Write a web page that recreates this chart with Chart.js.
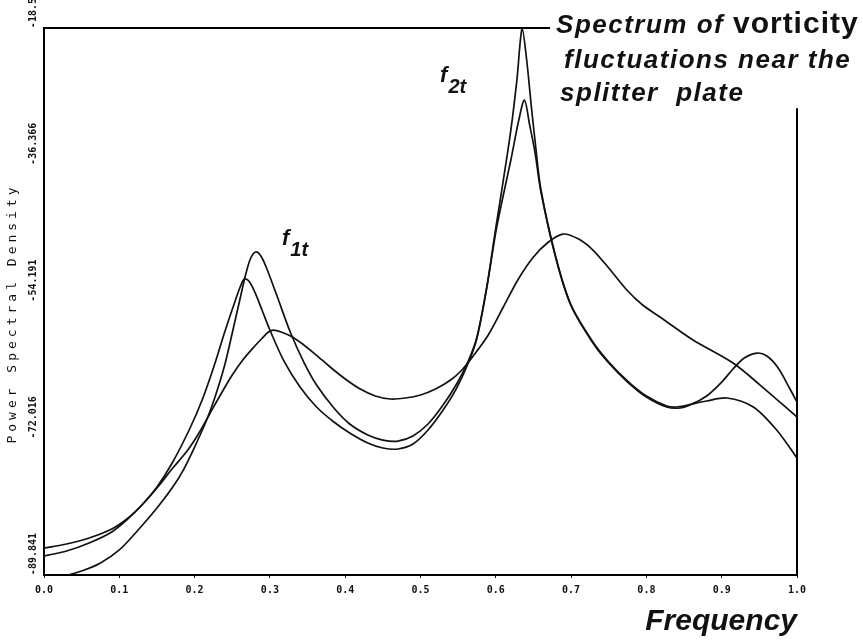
<!DOCTYPE html>
<html>
<head>
<meta charset="utf-8">
<script src="https://cdn.jsdelivr.net/npm/chart.js@4.4.1/dist/chart.umd.min.js"></script>
<style>
html,body{margin:0;padding:0;background:#fff;}
#wrap{width:863px;height:644px;position:relative;}
</style>
</head>
<body>
<div id="wrap"><canvas id="c"></canvas></div>
<script>
// ---- tick values / labels ----
const yTickValues = [-89.841, -72.016, -54.191, -36.366, -18.541];
const yTickLabels = ['-89.841', '-72.016', '-54.191', '-36.366', '-18.541'];
const xTickValues = [0, 0.1, 0.2, 0.3, 0.4, 0.5, 0.6, 0.7, 0.8, 0.9, 1.0];
const xTickLabels = ['0.0', '0.1', '0.2', '0.3', '0.4', '0.5', '0.6', '0.7', '0.8', '0.9', '1.0'];

// ---- spectrum A (sharpest peaks) ----
const freqA = [0, 0.025, 0.05, 0.075, 0.10, 0.125, 0.15, 0.171, 0.185, 0.20, 0.216, 0.228, 0.24, 0.25, 0.26, 0.267, 0.274, 0.281, 0.288, 0.295, 0.309, 0.327, 0.345, 0.362, 0.385, 0.406, 0.43, 0.45, 0.47, 0.49, 0.51, 0.53, 0.548, 0.564, 0.575, 0.588, 0.60, 0.61, 0.62, 0.628, 0.635, 0.641, 0.647, 0.652, 0.66, 0.68, 0.70, 0.729, 0.75, 0.775, 0.80, 0.827, 0.84, 0.86, 0.88, 0.90, 0.915, 0.93, 0.947, 0.96, 0.975, 0.99, 1.0];
const psdA  = [-90.5, -90.0, -89.32, -88.28, -86.58, -83.98, -81.11, -78.37, -76.16, -73.16, -69.64, -66.38, -62.47, -58.30, -54.00, -51.00, -48.65, -47.74, -48.26, -49.70, -53.35, -58.17, -62.08, -65.08, -68.07, -70.16, -71.59, -72.25, -72.38, -71.72, -70.16, -67.68, -64.95, -61.82, -58.82, -52.30, -44.61, -38.36, -31.84, -25.33, -18.55, -22.71, -28.58, -33.14, -39.66, -48.52, -54.65, -59.47, -62.08, -64.56, -66.51, -67.81, -67.94, -67.55, -66.51, -64.69, -62.99, -61.56, -60.91, -61.30, -62.86, -65.47, -67.29];

// ---- spectrum B ----
const freqB = [0, 0.03, 0.06, 0.09, 0.11, 0.13, 0.15, 0.171, 0.194, 0.21, 0.225, 0.24, 0.252, 0.26, 0.266, 0.272, 0.28, 0.29, 0.30, 0.318, 0.34, 0.362, 0.385, 0.406, 0.43, 0.45, 0.47, 0.49, 0.51, 0.53, 0.548, 0.564, 0.575, 0.588, 0.60, 0.61, 0.62, 0.63, 0.638, 0.645, 0.652, 0.66, 0.68, 0.70, 0.729, 0.75, 0.775, 0.80, 0.827, 0.845, 0.862, 0.88, 0.907, 0.942, 0.973, 1.0];
const psdB  = [-87.37, -86.71, -85.67, -84.24, -82.67, -80.72, -78.37, -75.11, -70.68, -67.03, -62.86, -58.17, -54.65, -52.43, -51.26, -51.52, -52.96, -55.43, -57.91, -61.82, -65.34, -67.94, -69.90, -71.33, -72.64, -73.29, -73.42, -72.77, -70.94, -68.34, -65.47, -62.08, -58.95, -52.43, -45.13, -40.31, -35.75, -30.80, -27.93, -31.19, -34.71, -39.92, -48.65, -54.78, -59.60, -62.21, -64.69, -66.64, -67.94, -68.07, -67.55, -67.16, -66.77, -67.94, -70.94, -74.59];

// ---- spectrum C (broad peaks) ----
const freqC = [0, 0.03, 0.06, 0.09, 0.11, 0.13, 0.15, 0.171, 0.19, 0.205, 0.22, 0.235, 0.25, 0.265, 0.28, 0.29, 0.298, 0.305, 0.315, 0.33, 0.345, 0.36, 0.38, 0.40, 0.42, 0.44, 0.46, 0.48, 0.50, 0.52, 0.54, 0.555, 0.57, 0.59, 0.61, 0.63, 0.65, 0.67, 0.689, 0.71, 0.729, 0.75, 0.774, 0.795, 0.818, 0.862, 0.915, 0.951, 1.0];
const psdC  = [-86.32, -85.80, -85.02, -83.85, -82.54, -80.72, -78.50, -75.90, -73.68, -71.46, -68.86, -66.25, -63.77, -61.69, -59.99, -58.95, -58.17, -57.91, -58.17, -58.82, -59.86, -61.04, -62.73, -64.29, -65.60, -66.51, -66.90, -66.77, -66.38, -65.60, -64.43, -63.12, -61.30, -58.56, -54.91, -51.26, -48.39, -46.44, -45.40, -46.05, -47.48, -49.83, -52.69, -54.65, -56.21, -59.21, -62.21, -65.08, -69.25];

// ---- frame / annotation anchors (not data) ----
const topBorderEndFreq = 0.672;
const rightBorderStartPsd = -29.0;

function toPoints(xs, ys) { return xs.map((x, i) => ({x: x, y: ys[i]})); }
function mkSet(label, xs, ys) {
  return {label: label, data: toPoints(xs, ys), borderColor: '#111', borderWidth: 1.7,
          pointRadius: 0, fill: false, tension: 0.3};
}

const spacedTitle = {
  id: 'spacedTitle',
  beforeDraw(chart) {
    const s = chart.scales.y;
    if (s && !s.__spaced) {
      const orig = s.drawTitle;
      s.drawTitle = function () {
        const c = this.ctx; c.save(); c.letterSpacing = '4px'; c.translate(0, 12);
        orig.apply(this, arguments); c.restore();
      };
      s.__spaced = true;
    }
  }
};

const annotations = {
  id: 'annotations',
  afterDraw(chart) {
    const {ctx, chartArea: ca, scales: {x, y}} = chart;
    ctx.save();
    // partial frame
    ctx.strokeStyle = '#000'; ctx.lineWidth = 2;
    ctx.beginPath();
    ctx.moveTo(ca.left, ca.top); ctx.lineTo(x.getPixelForValue(topBorderEndFreq), ca.top);
    ctx.stroke();
    ctx.beginPath();
    ctx.moveTo(ca.right, y.getPixelForValue(rightBorderStartPsd)); ctx.lineTo(ca.right, ca.bottom);
    ctx.stroke();

    ctx.fillStyle = '#111'; ctx.textAlign = 'left'; ctx.textBaseline = 'alphabetic';
    // f1t
    let fx = x.getPixelForValue(0.316), fy = y.getPixelForValue(-46.8);
    ctx.font = 'italic bold 22px "Liberation Sans"';
    ctx.fillText('f', fx, fy);
    let w = ctx.measureText('f').width;
    ctx.font = 'italic bold 20px "Liberation Sans"';
    ctx.fillText('1t', fx + w + 1, fy + 11);
    // f2t
    fx = x.getPixelForValue(0.526); fy = y.getPixelForValue(-25.6);
    ctx.font = 'italic bold 22px "Liberation Sans"';
    ctx.fillText('f', fx, fy);
    w = ctx.measureText('f').width;
    ctx.font = 'italic bold 20px "Liberation Sans"';
    ctx.fillText('2t', fx + w + 1, fy + 11);

    // caption
    const tx = x.getPixelForValue(0.68);
    const ty = ca.top;
    ctx.letterSpacing = '1.5px';
    ctx.font = 'italic bold 26px "Liberation Sans"';
    ctx.fillText('Spectrum of ', tx, ty + 5);
    w = ctx.measureText('Spectrum of ').width;
    ctx.letterSpacing = '1px';
    ctx.font = 'bold 30px "Liberation Sans"';
    ctx.fillText('vorticity', tx + w, ty + 5);
    ctx.letterSpacing = '1.5px';
    ctx.font = 'italic bold 26px "Liberation Sans"';
    ctx.fillText('fluctuations near the', tx + 8, ty + 40);
    ctx.fillText('splitter  plate', tx + 4, ty + 73);
    ctx.restore();
  }
};

new Chart(document.getElementById('c'), {
  type: 'line',
  data: {datasets: [mkSet('A', freqA, psdA), mkSet('B', freqB, psdB), mkSet('C', freqC, psdC)]},
  options: {
    responsive: true, maintainAspectRatio: false, animation: false,
    layout: {padding: {left: 0, right: 66, top: 28, bottom: 0}},
    plugins: {legend: {display: false}, tooltip: {enabled: false}, title: {display: false}},
    scales: {
      x: {
        type: 'linear', min: 0, max: 1,
        afterBuildTicks: s => { s.ticks = xTickValues.map(v => ({value: v})); },
        ticks: {autoSkip: false, minRotation: 0, maxRotation: 0, padding: 6, color: '#111',
                font: {family: 'DejaVu Sans Mono', size: 10, weight: 'bold'},
                callback: (v, i) => xTickLabels[i]},
        grid: {display: true, drawOnChartArea: false, tickLength: 3, color: '#111'},
        border: {display: true, color: '#000', width: 2},
        title: {display: true, text: 'Frequency', align: 'end', color: '#111',
                font: {family: 'Liberation Sans', size: 30, weight: 'bold', style: 'italic'},
                padding: {top: 0, bottom: 4}},
        afterFit: s => { s.height = 69; }
      },
      y: {
        type: 'linear', min: -89.841, max: -18.541,
        afterBuildTicks: s => { s.ticks = yTickValues.map(v => ({value: v})); },
        ticks: {autoSkip: false, minRotation: 90, maxRotation: 90, crossAlign: 'near', padding: 11,
                labelOffset: -42, color: '#111',
                font: {family: 'DejaVu Sans Mono', size: 10, weight: 'bold'},
                callback: (v, i) => yTickLabels[i]},
        grid: {display: false, drawTicks: false},
        border: {display: true, color: '#000', width: 2},
        title: {display: true, text: 'Power Spectral Density', color: '#111',
                font: {family: 'DejaVu Sans Mono', size: 13},
                padding: {top: 5, bottom: 0}},
        afterFit: s => { s.width = 44; }
      }
    }
  },
  plugins: [spacedTitle, annotations]
});
</script>
</body>
</html>
